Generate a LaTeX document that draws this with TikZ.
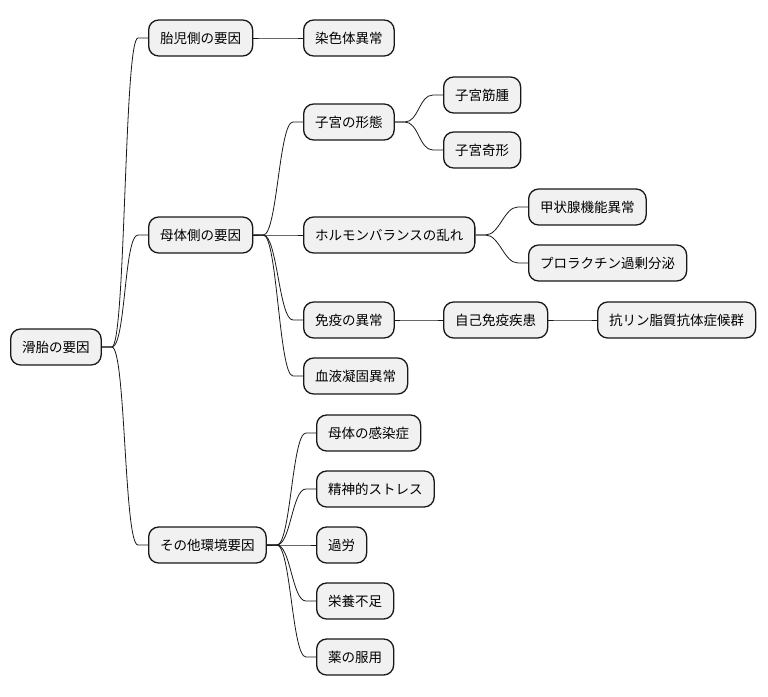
\documentclass[tikz,border=0pt]{standalone}
\usepackage{fontspec}
\setmainfont{Noto Sans CJK JP}
\usetikzlibrary{calc}
\definecolor{boxfill}{HTML}{F1F1F1}
\definecolor{boxline}{HTML}{181818}
\tikzset{
  mm/.style={draw=boxline, fill=boxfill, line width=1.3pt, rounded corners=10pt,
    minimum height=36pt, inner xsep=11.5pt, inner ysep=0pt, anchor=west,
    font=\fontsize{13.5}{16}\selectfont, text=black},
  branch/.style={to path={-- ++(10pt,0) .. controls +(14pt,0) and ($(\tikztotarget)+(-24pt,0)$) .. ($(\tikztotarget)+(-10pt,0)$) -- (\tikztotarget)}},
  link/.style={draw=boxline, line width=0.8pt}
}
\begin{document}
\begin{tikzpicture}[x=1pt,y=-1pt]
\useasboundingbox (0,0) rectangle (768,696);
\node[mm] (r) at (10,347) {滑胎の要因};
\node[mm] (c1) at (148,38) {胎児側の要因};
\node[mm] (c1a) at (303,38) {染色体異常};
\node[mm] (c2) at (148,235) {母体側の要因};
\node[mm] (c2a) at (303,122) {子宮の形態};
\node[mm] (c2a1) at (443,95) {子宮筋腫};
\node[mm] (c2a2) at (443,150) {子宮奇形};
\node[mm] (c2b) at (303,235) {ホルモンバランスの乱れ};
\node[mm] (c2b1) at (528,207) {甲状腺機能異常};
\node[mm] (c2b2) at (528,263) {プロラクチン過剰分泌};
\node[mm] (c2c) at (303,320) {免疫の異常};
\node[mm] (c2c1) at (443,320) {自己免疫疾患};
\node[mm] (c2c1a) at (597,320) {抗リン脂質抗体症候群};
\node[mm] (c2d) at (303,376) {血液凝固異常};
\node[mm] (c3) at (148,545) {その他環境要因};
\node[mm] (c3a) at (316,433) {母体の感染症};
\node[mm] (c3b) at (316,489) {精神的ストレス};
\node[mm] (c3c) at (316,545) {過労};
\node[mm] (c3d) at (316,601) {栄養不足};
\node[mm] (c3e) at (316,657) {薬の服用};
\foreach \p/\c in {r/c1, r/c2, r/c3, c1/c1a, c2/c2a, c2/c2b, c2/c2c, c2/c2d,
  c2a/c2a1, c2a/c2a2, c2b/c2b1, c2b/c2b2, c2c/c2c1, c2c1/c2c1a,
  c3/c3a, c3/c3b, c3/c3c, c3/c3d, c3/c3e}
  \draw[link] (\p.east) to[branch] (\c.west);
\end{tikzpicture}
\end{document}
